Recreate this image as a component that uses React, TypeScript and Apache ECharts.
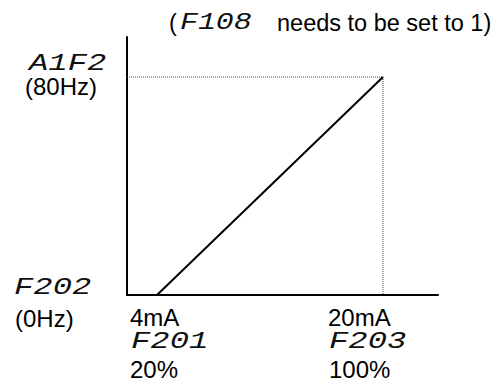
import React, { useEffect, useRef } from "react";
import * as echarts from "echarts";

// Data (current in mA -> output frequency in Hz)
const currentMA = [4, 20];
const freqHz = [0, 80];
const xAxisMin = 1.876;
const xAxisMax = 23.894;
const yAxisMin = 0;
const yAxisMax = 94.68;

// Labels
const topNote = ["(", "F108", "needs to be set to 1)"];
const yTopLabels = ["A1F2", "(80Hz)"];
const yBottomLabels = ["F202", "(0Hz)"];
const xLeftLabels = ["4mA", "F201", "20%"];
const xRightLabels = ["20mA", "F203", "100%"];

const SANS = "Liberation Sans";
const CODE = "Liberation Mono";

function plain(text: string, x: number, y: number, size = 24) {
  return {
    type: "text",
    x,
    y,
    style: {
      text,
      fill: "#000",
      fontSize: size,
      fontFamily: SANS,
      textAlign: "left",
      textVerticalAlign: "middle",
    },
  };
}

function code(text: string, x: number, y: number, sx = 1.4) {
  return {
    type: "text",
    x,
    y,
    scaleX: sx,
    style: {
      text,
      fill: "#111",
      fontSize: 23,
      fontStyle: "italic",
      fontFamily: CODE,
      textAlign: "left",
      textVerticalAlign: "middle",
    },
  };
}

export default function App() {
  const ref = useRef<HTMLDivElement>(null);
  useEffect(() => {
    if (!ref.current) return;
    const chart = echarts.init(ref.current, null, { renderer: "svg" });
    const mainLine = currentMA.map((c, i) => [c, freqHz[i]]);
    const guide = [
      [xAxisMin, freqHz[1]],
      [currentMA[1], freqHz[1]],
      [currentMA[1], freqHz[0]],
    ];
    chart.setOption({
      animation: false,
      backgroundColor: "#fff",
      grid: { left: 127, right: 58, top: 37, bottom: 88, containLabel: false },
      xAxis: {
        type: "value",
        min: xAxisMin,
        max: xAxisMax,
        axisLine: { show: true, lineStyle: { color: "#000", width: 2 } },
        axisTick: { show: false },
        axisLabel: { show: false },
        splitLine: { show: false },
      },
      yAxis: {
        type: "value",
        min: yAxisMin,
        max: yAxisMax,
        axisLine: { show: true, lineStyle: { color: "#000", width: 2 } },
        axisTick: { show: false },
        axisLabel: { show: false },
        splitLine: { show: false },
      },
      series: [
        {
          type: "line",
          data: guide,
          showSymbol: false,
          symbol: "none",
          lineStyle: { color: "#444", width: 1, type: [1, 1] },
          z: 1,
        },
        {
          type: "line",
          data: mainLine,
          showSymbol: false,
          symbol: "none",
          lineStyle: { color: "#000", width: 2 },
          z: 2,
        },
      ],
      graphic: [
        plain(topNote[0], 169, 23, 23.5),
        code(topNote[1], 180, 23, 1.3),
        plain(topNote[2], 277, 23, 23.5),
        code(yTopLabels[0], 29, 64),
        plain(yTopLabels[1], 25, 86),
        code(yBottomLabels[0], 14, 288),
        plain(yBottomLabels[1], 15, 318),
        plain(xLeftLabels[0], 130, 317),
        code(xLeftLabels[1], 131, 342),
        plain(xLeftLabels[2], 130, 369),
        plain(xRightLabels[0], 328, 317),
        code(xRightLabels[1], 329, 342),
        plain(xRightLabels[2], 329, 369),
      ],
    });
    return () => chart.dispose();
  }, []);
  return (
    <div
      ref={ref}
      style={{ position: "fixed", left: 0, top: 0, width: 496, height: 383 }}
    />
  );
}
